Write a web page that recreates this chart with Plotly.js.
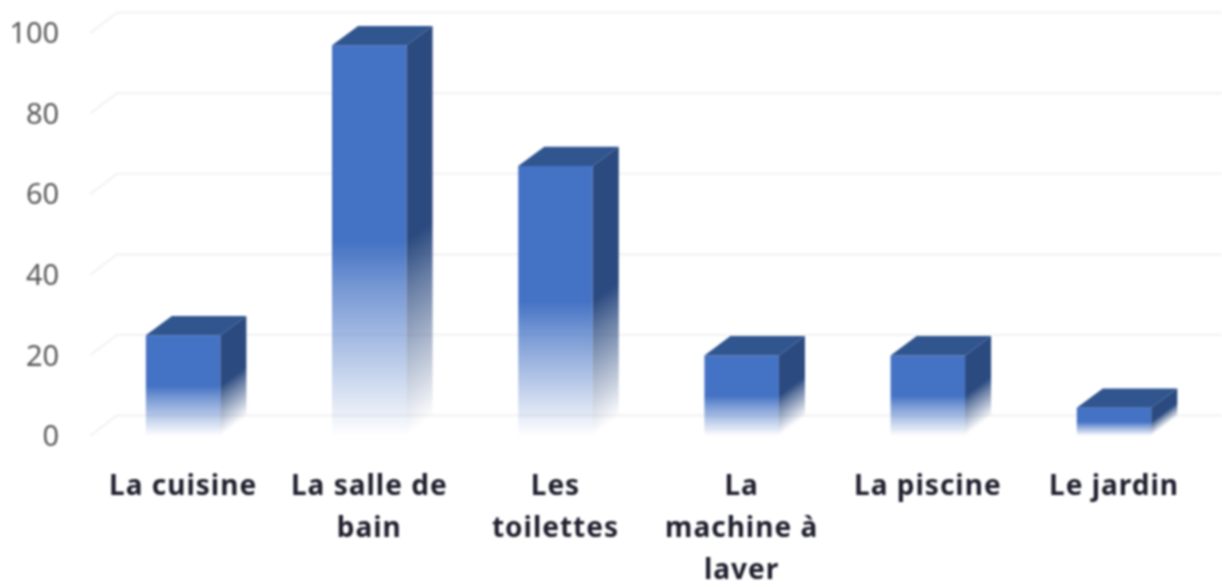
<!DOCTYPE html>
<html>
<head>
<meta charset="utf-8">
<script src="https://cdn.plot.ly/plotly-3.0.1.min.js"></script>
<style>
html,body{margin:0;padding:0;background:#fff;overflow:hidden}
#chart{width:1222px;height:587px;filter:blur(0.8px)}
</style>
</head>
<body>
<div id="chart"></div>
<script>
const categories = ["La cuisine", "La salle de<br>bain", "Les<br>toilettes", "La<br>machine à<br>laver", "La piscine", "Le jardin"];
const values = [25, 97, 67, 20, 20, 7];
const yTicks = [0, 20, 40, 60, 80, 100];

const barWidth = 0.4, depthX = 0.14, depthY = 4.8;
const gridDepthX = 0.145, gridDepthY = 5.1;
const xMin = -0.5, xMax = 5.58, yMax = 105.5;
const FRONT = '#4472C4', SIDE = '#2B4A80', TOP = '#30558F';

const indices = categories.map((_, i) => i);

const traces = [{
  type: 'bar', x: indices, y: values, width: barWidth,
  marker: {color: FRONT, line: {width: 0}}, showlegend: false
}];
indices.forEach(i => {
  const r = i + barWidth / 2, v = values[i];
  traces.push({
    type: 'scatter', mode: 'lines', fill: 'toself', fillcolor: SIDE,
    line: {width: 0, color: SIDE}, showlegend: false,
    x: [r, r, r + depthX, r + depthX, r],
    y: [0, v, v + depthY, depthY, 0]
  });
});
indices.forEach(i => {
  const r = i + barWidth / 2, l = i - barWidth / 2, v = values[i];
  traces.push({
    type: 'scatter', mode: 'lines', fill: 'toself', fillcolor: TOP,
    line: {width: 0, color: TOP}, showlegend: false,
    x: [l, r, r + depthX, l + depthX, l],
    y: [v, v, v + depthY, v + depthY, v]
  });
});

const shapes = yTicks.map(t => ({
  type: 'path', xref: 'x', yref: 'y', layer: 'below',
  path: `M ${xMin},${t} L ${xMin + gridDepthX},${t + gridDepthY} L ${xMax},${t + gridDepthY}`,
  line: {color: '#F3F3F3', width: 2.2}
}));

const layout = {
  width: 1222, height: 587,
  margin: {l: 90, r: 0, t: 11, b: 151, pad: 0},
  paper_bgcolor: '#fff', plot_bgcolor: '#fff',
  showlegend: false, hovermode: false,
  xaxis: {
    type: 'linear', range: [xMin, xMax], tickmode: 'array',
    tickvals: indices, ticktext: categories,
    showgrid: false, zeroline: false, showline: false,
    ticks: 'outside', ticklen: 24, tickcolor: 'rgba(0,0,0,0)', tickangle: 0,
    tickfont: {family: '"Noto Sans", sans-serif', size: 28, color: '#1F1F2E', weight: 700}
  },
  yaxis: {
    range: [0, yMax], tickmode: 'array', tickvals: yTicks,
    showgrid: false, zeroline: false, showline: false,
    ticks: 'outside', ticklen: 24, tickcolor: 'rgba(0,0,0,0)',
    tickfont: {family: '"Noto Sans", sans-serif', size: 29, color: '#595959'}
  },
  shapes: shapes
};

Plotly.newPlot('chart', traces, layout, {displayModeBar: false, staticPlot: true}).then(gd => {
  const svg = gd.querySelector('svg.main-svg');
  const NS = 'http://www.w3.org/2000/svg';
  const defs = document.createElementNS(NS, 'defs');
  svg.insertBefore(defs, svg.firstChild);

  function gradient(id, color, solidTo, skew) {
    const g = document.createElementNS(NS, 'linearGradient');
    g.setAttribute('id', id);
    g.setAttribute('x1', 0); g.setAttribute('y1', 0);
    g.setAttribute('x2', 0); g.setAttribute('y2', 1);
    if (skew) g.setAttribute('gradientTransform', `matrix(1 ${-skew} 0 1 0 0)`);
    [[solidTo, color, 1], [solidTo + (1 - solidTo) * 0.25, color, 0.72], [0.985, color, 0.03], [1, color, 0]].forEach(s => {
      const st = document.createElementNS(NS, 'stop');
      st.setAttribute('offset', s[0]);
      st.setAttribute('stop-color', s[1]);
      st.setAttribute('stop-opacity', s[2]);
      g.appendChild(st);
    });
    defs.appendChild(g);
  }

  const bars = gd.querySelectorAll('.barlayer .point path');
  bars.forEach((p, i) => {
    gradient('front' + i, FRONT, 0.5, 0);
    p.style.fill = `url(#front${i})`;
    p.style.fillOpacity = 1;
  });

  const fills = gd.querySelectorAll('.scatterlayer .trace .js-fill');
  indices.forEach(i => {
    const total = values[i] + depthY;
    const k = depthY / total;
    gradient('side' + i, SIDE, (k + 1) / 2, k);
    const p = fills[i];
    if (p) { p.style.fill = `url(#side${i})`; p.style.fillOpacity = 1; }
  });

  gd.querySelectorAll('.xtick text').forEach(t => {
    t.style.letterSpacing = '1px';
    t.querySelectorAll('tspan.line').forEach((s, n) => s.setAttribute('dy', (n * 42) + 'px'));
  });
});
</script>
</body>
</html>
